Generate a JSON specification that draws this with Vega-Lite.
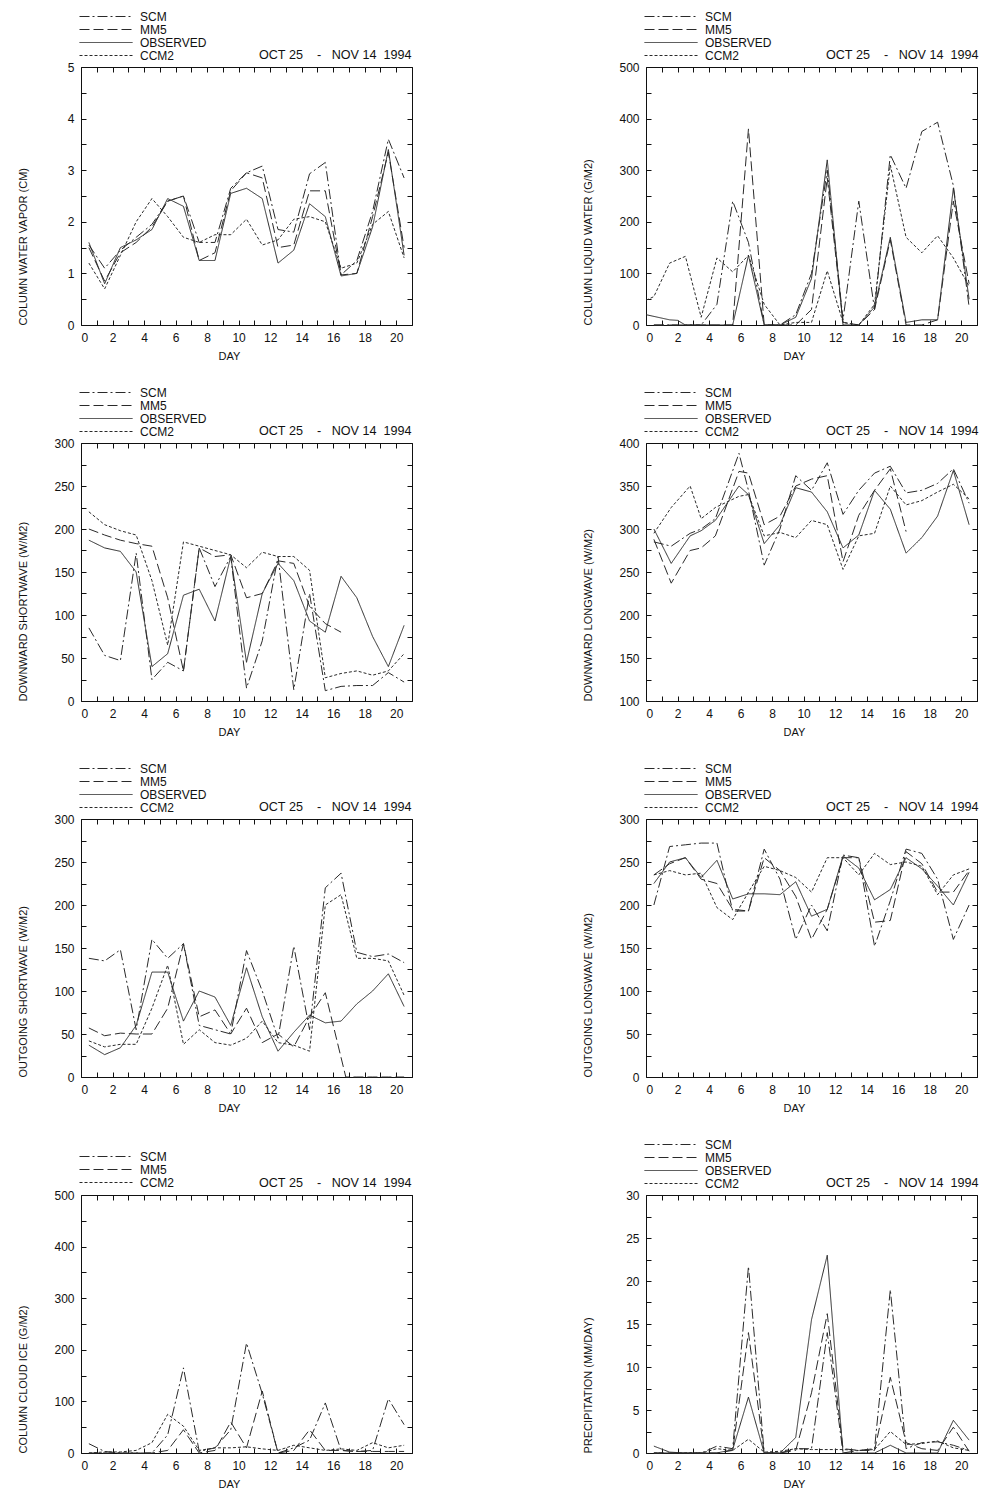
{
"$schema": "https://vega.github.io/schema/vega-lite/v6.json",
"background": "white",
"padding": {"left": 16, "top": 9, "right": 0, "bottom": 0},
"columns": 2,
"spacing": {"row": 118, "column": 234},
"bounds": "flush",
"resolve": {"scale": {"strokeDash": "independent", "x": "independent", "y": "independent"}, "legend": {"strokeDash": "independent"}},
"datasets": {
"cwv": [
{"series":"SCM","day":0.5,"value":1.55},{"series":"SCM","day":1.5,"value":1.1},{"series":"SCM","day":2.5,"value":1.45},{"series":"SCM","day":3.5,"value":1.7},{"series":"SCM","day":4.5,"value":1.95},{"series":"SCM","day":5.5,"value":2.4},{"series":"SCM","day":6.5,"value":2.5},{"series":"SCM","day":7.5,"value":1.6},{"series":"SCM","day":8.5,"value":1.6},{"series":"SCM","day":9.5,"value":2.65},{"series":"SCM","day":10.5,"value":2.95},{"series":"SCM","day":11.5,"value":3.08},{"series":"SCM","day":12.5,"value":1.85},{"series":"SCM","day":13.5,"value":1.8},{"series":"SCM","day":14.5,"value":2.93},{"series":"SCM","day":15.5,"value":3.15},{"series":"SCM","day":16.5,"value":0.97},{"series":"SCM","day":17.5,"value":1.25},{"series":"SCM","day":18.5,"value":2.2},{"series":"SCM","day":19.5,"value":3.6},{"series":"SCM","day":20.5,"value":2.85},
{"series":"MM5","day":0.5,"value":1.5},{"series":"MM5","day":1.5,"value":0.85},{"series":"MM5","day":2.5,"value":1.4},{"series":"MM5","day":3.5,"value":1.6},{"series":"MM5","day":4.5,"value":1.9},{"series":"MM5","day":5.5,"value":2.4},{"series":"MM5","day":6.5,"value":2.5},{"series":"MM5","day":7.5,"value":1.25},{"series":"MM5","day":8.5,"value":1.4},{"series":"MM5","day":9.5,"value":2.6},{"series":"MM5","day":10.5,"value":2.95},{"series":"MM5","day":11.5,"value":2.85},{"series":"MM5","day":12.5,"value":1.5},{"series":"MM5","day":13.5,"value":1.55},{"series":"MM5","day":14.5,"value":2.6},{"series":"MM5","day":15.5,"value":2.6},{"series":"MM5","day":16.5,"value":0.97},{"series":"MM5","day":17.5,"value":1.0},{"series":"MM5","day":18.5,"value":2.1},{"series":"MM5","day":19.5,"value":3.35},{"series":"MM5","day":20.5,"value":1.5},
{"series":"OBSERVED","day":0.5,"value":1.6},{"series":"OBSERVED","day":1.5,"value":0.8},{"series":"OBSERVED","day":2.5,"value":1.5},{"series":"OBSERVED","day":3.5,"value":1.65},{"series":"OBSERVED","day":4.5,"value":1.85},{"series":"OBSERVED","day":5.5,"value":2.45},{"series":"OBSERVED","day":6.5,"value":2.3},{"series":"OBSERVED","day":7.5,"value":1.25},{"series":"OBSERVED","day":8.5,"value":1.25},{"series":"OBSERVED","day":9.5,"value":2.55},{"series":"OBSERVED","day":10.5,"value":2.65},{"series":"OBSERVED","day":11.5,"value":2.45},{"series":"OBSERVED","day":12.5,"value":1.2},{"series":"OBSERVED","day":13.5,"value":1.45},{"series":"OBSERVED","day":14.5,"value":2.35},{"series":"OBSERVED","day":15.5,"value":2.1},{"series":"OBSERVED","day":16.5,"value":0.95},{"series":"OBSERVED","day":17.5,"value":1.0},{"series":"OBSERVED","day":18.5,"value":1.9},{"series":"OBSERVED","day":19.5,"value":3.4},{"series":"OBSERVED","day":20.5,"value":1.35},
{"series":"CCM2","day":0.5,"value":1.2},{"series":"CCM2","day":1.5,"value":0.7},{"series":"CCM2","day":2.5,"value":1.35},{"series":"CCM2","day":3.5,"value":2.0},{"series":"CCM2","day":4.5,"value":2.45},{"series":"CCM2","day":5.5,"value":2.1},{"series":"CCM2","day":6.5,"value":1.7},{"series":"CCM2","day":7.5,"value":1.6},{"series":"CCM2","day":8.5,"value":1.75},{"series":"CCM2","day":9.5,"value":1.75},{"series":"CCM2","day":10.5,"value":2.05},{"series":"CCM2","day":11.5,"value":1.55},{"series":"CCM2","day":12.5,"value":1.65},{"series":"CCM2","day":13.5,"value":2.05},{"series":"CCM2","day":14.5,"value":2.1},{"series":"CCM2","day":15.5,"value":2.0},{"series":"CCM2","day":16.5,"value":1.1},{"series":"CCM2","day":17.5,"value":1.2},{"series":"CCM2","day":18.5,"value":1.95},{"series":"CCM2","day":19.5,"value":2.2},{"series":"CCM2","day":20.5,"value":1.3}
],
"clw": [
{"series":"SCM","day":0.5,"value":0},{"series":"SCM","day":1.5,"value":0},{"series":"SCM","day":2.5,"value":0},{"series":"SCM","day":3.5,"value":0},{"series":"SCM","day":4.5,"value":40},{"series":"SCM","day":5.5,"value":240},{"series":"SCM","day":6.5,"value":160},{"series":"SCM","day":7.5,"value":0},{"series":"SCM","day":8.5,"value":0},{"series":"SCM","day":9.5,"value":20},{"series":"SCM","day":10.5,"value":100},{"series":"SCM","day":11.5,"value":300},{"series":"SCM","day":12.5,"value":10},{"series":"SCM","day":13.5,"value":240},{"series":"SCM","day":14.5,"value":30},{"series":"SCM","day":15.5,"value":330},{"series":"SCM","day":16.5,"value":265},{"series":"SCM","day":17.5,"value":375},{"series":"SCM","day":18.5,"value":393},{"series":"SCM","day":19.5,"value":270},{"series":"SCM","day":20.5,"value":35},
{"series":"MM5","day":0.5,"value":0},{"series":"MM5","day":1.5,"value":0},{"series":"MM5","day":2.5,"value":0},{"series":"MM5","day":3.5,"value":0},{"series":"MM5","day":4.5,"value":0},{"series":"MM5","day":5.5,"value":0},{"series":"MM5","day":6.5,"value":380},{"series":"MM5","day":7.5,"value":0},{"series":"MM5","day":8.5,"value":0},{"series":"MM5","day":9.5,"value":0},{"series":"MM5","day":10.5,"value":30},{"series":"MM5","day":11.5,"value":285},{"series":"MM5","day":12.5,"value":5},{"series":"MM5","day":13.5,"value":0},{"series":"MM5","day":14.5,"value":30},{"series":"MM5","day":15.5,"value":165},{"series":"MM5","day":16.5,"value":0},{"series":"MM5","day":17.5,"value":0},{"series":"MM5","day":18.5,"value":10},{"series":"MM5","day":19.5,"value":240},{"series":"MM5","day":20.5,"value":80},
{"series":"OBSERVED","day":0,"value":20},{"series":"OBSERVED","day":1.5,"value":10},{"series":"OBSERVED","day":2,"value":9},{"series":"OBSERVED","day":2.5,"value":0},{"series":"OBSERVED","day":3.5,"value":0},{"series":"OBSERVED","day":4.5,"value":0},{"series":"OBSERVED","day":5.5,"value":0},{"series":"OBSERVED","day":6.5,"value":135},{"series":"OBSERVED","day":7.5,"value":0},{"series":"OBSERVED","day":8.5,"value":0},{"series":"OBSERVED","day":9.5,"value":15},{"series":"OBSERVED","day":10.5,"value":90},{"series":"OBSERVED","day":11.5,"value":320},{"series":"OBSERVED","day":12.5,"value":0},{"series":"OBSERVED","day":13.5,"value":0},{"series":"OBSERVED","day":14.5,"value":35},{"series":"OBSERVED","day":15.5,"value":170},{"series":"OBSERVED","day":16.5,"value":5},{"series":"OBSERVED","day":17.5,"value":10},{"series":"OBSERVED","day":18.5,"value":10},{"series":"OBSERVED","day":19.5,"value":265},{"series":"OBSERVED","day":20.5,"value":50},
{"series":"CCM2","day":0,"value":48},{"series":"CCM2","day":0.5,"value":55},{"series":"CCM2","day":1.5,"value":120},{"series":"CCM2","day":2.5,"value":133},{"series":"CCM2","day":3.5,"value":15},{"series":"CCM2","day":4.5,"value":130},{"series":"CCM2","day":5.5,"value":103},{"series":"CCM2","day":6.5,"value":135},{"series":"CCM2","day":7.5,"value":40},{"series":"CCM2","day":8.5,"value":0},{"series":"CCM2","day":9.5,"value":5},{"series":"CCM2","day":10.5,"value":5},{"series":"CCM2","day":11.5,"value":105},{"series":"CCM2","day":12.5,"value":5},{"series":"CCM2","day":13.5,"value":0},{"series":"CCM2","day":14.5,"value":40},{"series":"CCM2","day":15.5,"value":310},{"series":"CCM2","day":16.5,"value":170},{"series":"CCM2","day":17.5,"value":140},{"series":"CCM2","day":18.5,"value":173},{"series":"CCM2","day":19.5,"value":130},{"series":"CCM2","day":20.5,"value":75}
],
"dsw": [
{"series":"SCM","day":0.5,"value":85},{"series":"SCM","day":1.5,"value":53},{"series":"SCM","day":2.5,"value":47},{"series":"SCM","day":3.5,"value":172},{"series":"SCM","day":4.5,"value":25},{"series":"SCM","day":5.5,"value":45},{"series":"SCM","day":6.5,"value":35},{"series":"SCM","day":7.5,"value":178},{"series":"SCM","day":8.5,"value":133},{"series":"SCM","day":9.5,"value":168},{"series":"SCM","day":10.5,"value":15},{"series":"SCM","day":11.5,"value":70},{"series":"SCM","day":12.5,"value":168},{"series":"SCM","day":13.5,"value":13},{"series":"SCM","day":14.5,"value":125},{"series":"SCM","day":15.5,"value":12},{"series":"SCM","day":16.5,"value":17},{"series":"SCM","day":17.5,"value":18},{"series":"SCM","day":18.5,"value":18},{"series":"SCM","day":19.5,"value":33},{"series":"SCM","day":20.5,"value":22},
{"series":"MM5","day":0.5,"value":200},{"series":"MM5","day":1.5,"value":193},{"series":"MM5","day":2.5,"value":187},{"series":"MM5","day":3.5,"value":183},{"series":"MM5","day":4.5,"value":180},{"series":"MM5","day":5.5,"value":120},{"series":"MM5","day":6.5,"value":35},{"series":"MM5","day":7.5,"value":178},{"series":"MM5","day":8.5,"value":168},{"series":"MM5","day":9.5,"value":170},{"series":"MM5","day":10.5,"value":120},{"series":"MM5","day":11.5,"value":125},{"series":"MM5","day":12.5,"value":163},{"series":"MM5","day":13.5,"value":160},{"series":"MM5","day":14.5,"value":110},{"series":"MM5","day":15.5,"value":90},{"series":"MM5","day":16.5,"value":80},
{"series":"OBSERVED","day":0.5,"value":187},{"series":"OBSERVED","day":1.5,"value":178},{"series":"OBSERVED","day":2.5,"value":174},{"series":"OBSERVED","day":3.5,"value":150},{"series":"OBSERVED","day":4.5,"value":40},{"series":"OBSERVED","day":5.5,"value":55},{"series":"OBSERVED","day":6.5,"value":123},{"series":"OBSERVED","day":7.5,"value":130},{"series":"OBSERVED","day":8.5,"value":93},{"series":"OBSERVED","day":9.5,"value":168},{"series":"OBSERVED","day":10.5,"value":45},{"series":"OBSERVED","day":11.5,"value":125},{"series":"OBSERVED","day":12.5,"value":160},{"series":"OBSERVED","day":13.5,"value":140},{"series":"OBSERVED","day":14.5,"value":93},{"series":"OBSERVED","day":15.5,"value":80},{"series":"OBSERVED","day":16.5,"value":145},{"series":"OBSERVED","day":17.5,"value":120},{"series":"OBSERVED","day":18.5,"value":75},{"series":"OBSERVED","day":19.5,"value":40},{"series":"OBSERVED","day":20.5,"value":88},
{"series":"CCM2","day":0.5,"value":220},{"series":"CCM2","day":1.5,"value":205},{"series":"CCM2","day":2.5,"value":198},{"series":"CCM2","day":3.5,"value":193},{"series":"CCM2","day":4.5,"value":140},{"series":"CCM2","day":5.5,"value":65},{"series":"CCM2","day":6.5,"value":185},{"series":"CCM2","day":7.5,"value":180},{"series":"CCM2","day":8.5,"value":175},{"series":"CCM2","day":9.5,"value":170},{"series":"CCM2","day":10.5,"value":155},{"series":"CCM2","day":11.5,"value":173},{"series":"CCM2","day":12.5,"value":168},{"series":"CCM2","day":13.5,"value":168},{"series":"CCM2","day":14.5,"value":152},{"series":"CCM2","day":15.5,"value":27},{"series":"CCM2","day":16.5,"value":32},{"series":"CCM2","day":17.5,"value":35},{"series":"CCM2","day":18.5,"value":30},{"series":"CCM2","day":19.5,"value":35},{"series":"CCM2","day":20.5,"value":55}
],
"dlw": [
{"series":"SCM","day":0.5,"value":285},{"series":"SCM","day":1.6,"value":280},{"series":"SCM","day":2.8,"value":295},{"series":"SCM","day":3.5,"value":300},{"series":"SCM","day":4.4,"value":312},{"series":"SCM","day":5.9,"value":388},{"series":"SCM","day":6.5,"value":345},{"series":"SCM","day":7.5,"value":258},{"series":"SCM","day":8.5,"value":300},{"series":"SCM","day":9.5,"value":362},{"series":"SCM","day":10.5,"value":345},{"series":"SCM","day":11.5,"value":377},{"series":"SCM","day":12.5,"value":317},{"series":"SCM","day":13.5,"value":345},{"series":"SCM","day":14.5,"value":365},{"series":"SCM","day":15.5,"value":373},{"series":"SCM","day":16.5,"value":342},{"series":"SCM","day":17.5,"value":345},{"series":"SCM","day":18.5,"value":353},{"series":"SCM","day":19.5,"value":370},{"series":"SCM","day":20.5,"value":330},
{"series":"MM5","day":0.5,"value":288},{"series":"MM5","day":1.6,"value":237},{"series":"MM5","day":2.8,"value":275},{"series":"MM5","day":3.5,"value":278},{"series":"MM5","day":4.4,"value":292},{"series":"MM5","day":5.9,"value":367},{"series":"MM5","day":6.5,"value":365},{"series":"MM5","day":7.5,"value":305},{"series":"MM5","day":8.5,"value":315},{"series":"MM5","day":9.5,"value":350},{"series":"MM5","day":10.5,"value":358},{"series":"MM5","day":11.5,"value":362},{"series":"MM5","day":12.5,"value":262},{"series":"MM5","day":13.5,"value":316},{"series":"MM5","day":14.5,"value":345},{"series":"MM5","day":15.5,"value":370},{"series":"MM5","day":16.5,"value":297},
{"series":"OBSERVED","day":0.5,"value":300},{"series":"OBSERVED","day":1.6,"value":260},{"series":"OBSERVED","day":2.8,"value":292},{"series":"OBSERVED","day":3.5,"value":298},{"series":"OBSERVED","day":4.4,"value":310},{"series":"OBSERVED","day":5.9,"value":350},{"series":"OBSERVED","day":6.5,"value":340},{"series":"OBSERVED","day":7.5,"value":283},{"series":"OBSERVED","day":8.5,"value":305},{"series":"OBSERVED","day":9.5,"value":348},{"series":"OBSERVED","day":10.5,"value":343},{"series":"OBSERVED","day":11.5,"value":320},{"series":"OBSERVED","day":12.5,"value":278},{"series":"OBSERVED","day":13.5,"value":293},{"series":"OBSERVED","day":14.5,"value":345},{"series":"OBSERVED","day":15.5,"value":323},{"series":"OBSERVED","day":16.5,"value":272},{"series":"OBSERVED","day":17.5,"value":290},{"series":"OBSERVED","day":18.5,"value":315},{"series":"OBSERVED","day":19.5,"value":368},{"series":"OBSERVED","day":20.5,"value":305},
{"series":"CCM2","day":0.5,"value":295},{"series":"CCM2","day":1.6,"value":325},{"series":"CCM2","day":2.8,"value":350},{"series":"CCM2","day":3.5,"value":312},{"series":"CCM2","day":4.4,"value":325},{"series":"CCM2","day":5.9,"value":338},{"series":"CCM2","day":6.5,"value":340},{"series":"CCM2","day":7.5,"value":292},{"series":"CCM2","day":8.5,"value":296},{"series":"CCM2","day":9.5,"value":290},{"series":"CCM2","day":10.5,"value":310},{"series":"CCM2","day":11.5,"value":305},{"series":"CCM2","day":12.5,"value":253},{"series":"CCM2","day":13.5,"value":292},{"series":"CCM2","day":14.5,"value":295},{"series":"CCM2","day":15.5,"value":350},{"series":"CCM2","day":16.5,"value":328},{"series":"CCM2","day":17.5,"value":333},{"series":"CCM2","day":18.5,"value":343},{"series":"CCM2","day":19.5,"value":352},{"series":"CCM2","day":20.5,"value":335}
],
"osw": [
{"series":"SCM","day":0.5,"value":138},{"series":"SCM","day":1.5,"value":135},{"series":"SCM","day":2.5,"value":148},{"series":"SCM","day":3.5,"value":55},{"series":"SCM","day":4.5,"value":160},{"series":"SCM","day":5.5,"value":138},{"series":"SCM","day":6.5,"value":155},{"series":"SCM","day":7.5,"value":60},{"series":"SCM","day":8.5,"value":55},{"series":"SCM","day":9.5,"value":50},{"series":"SCM","day":10.5,"value":147},{"series":"SCM","day":11.5,"value":100},{"series":"SCM","day":12.5,"value":45},{"series":"SCM","day":13.5,"value":152},{"series":"SCM","day":14.5,"value":55},{"series":"SCM","day":15.5,"value":220},{"series":"SCM","day":16.5,"value":237},{"series":"SCM","day":17.5,"value":145},{"series":"SCM","day":18.5,"value":140},{"series":"SCM","day":19.5,"value":143},{"series":"SCM","day":20.5,"value":133},
{"series":"MM5","day":0.5,"value":57},{"series":"MM5","day":1.5,"value":48},{"series":"MM5","day":2.5,"value":51},{"series":"MM5","day":3.5,"value":50},{"series":"MM5","day":4.5,"value":50},{"series":"MM5","day":5.5,"value":80},{"series":"MM5","day":6.5,"value":155},{"series":"MM5","day":7.5,"value":70},{"series":"MM5","day":8.5,"value":78},{"series":"MM5","day":9.5,"value":50},{"series":"MM5","day":10.5,"value":80},{"series":"MM5","day":11.5,"value":40},{"series":"MM5","day":12.5,"value":50},{"series":"MM5","day":13.5,"value":35},{"series":"MM5","day":14.5,"value":70},{"series":"MM5","day":15.5,"value":98},{"series":"MM5","day":16.8,"value":0},{"series":"MM5","day":17.5,"value":0},{"series":"MM5","day":18.5,"value":0},{"series":"MM5","day":19.5,"value":0},{"series":"MM5","day":20.5,"value":0},
{"series":"OBSERVED","day":0.5,"value":37},{"series":"OBSERVED","day":1.5,"value":26},{"series":"OBSERVED","day":2.5,"value":34},{"series":"OBSERVED","day":3.5,"value":60},{"series":"OBSERVED","day":4.5,"value":122},{"series":"OBSERVED","day":5.5,"value":122},{"series":"OBSERVED","day":6.5,"value":65},{"series":"OBSERVED","day":7.5,"value":100},{"series":"OBSERVED","day":8.5,"value":93},{"series":"OBSERVED","day":9.5,"value":60},{"series":"OBSERVED","day":10.5,"value":127},{"series":"OBSERVED","day":11.5,"value":70},{"series":"OBSERVED","day":12.5,"value":30},{"series":"OBSERVED","day":13.5,"value":52},{"series":"OBSERVED","day":14.5,"value":72},{"series":"OBSERVED","day":15.5,"value":63},{"series":"OBSERVED","day":16.5,"value":65},{"series":"OBSERVED","day":17.5,"value":85},{"series":"OBSERVED","day":18.5,"value":100},{"series":"OBSERVED","day":19.5,"value":120},{"series":"OBSERVED","day":20.5,"value":82},
{"series":"CCM2","day":0.5,"value":42},{"series":"CCM2","day":1.5,"value":35},{"series":"CCM2","day":2.5,"value":38},{"series":"CCM2","day":3.5,"value":38},{"series":"CCM2","day":4.5,"value":80},{"series":"CCM2","day":5.5,"value":130},{"series":"CCM2","day":6.5,"value":38},{"series":"CCM2","day":7.5,"value":55},{"series":"CCM2","day":8.5,"value":40},{"series":"CCM2","day":9.5,"value":37},{"series":"CCM2","day":10.5,"value":45},{"series":"CCM2","day":11.5,"value":65},{"series":"CCM2","day":12.5,"value":40},{"series":"CCM2","day":13.5,"value":37},{"series":"CCM2","day":14.5,"value":30},{"series":"CCM2","day":15.5,"value":200},{"series":"CCM2","day":16.5,"value":212},{"series":"CCM2","day":17.5,"value":138},{"series":"CCM2","day":18.5,"value":138},{"series":"CCM2","day":19.5,"value":135},{"series":"CCM2","day":20.5,"value":95}
],
"olw": [
{"series":"SCM","day":0.5,"value":200},{"series":"SCM","day":1.5,"value":268},{"series":"SCM","day":2.5,"value":270},{"series":"SCM","day":3.5,"value":272},{"series":"SCM","day":4.5,"value":272},{"series":"SCM","day":5.5,"value":193},{"series":"SCM","day":6.5,"value":193},{"series":"SCM","day":7.5,"value":265},{"series":"SCM","day":8.5,"value":230},{"series":"SCM","day":9.5,"value":160},{"series":"SCM","day":10.5,"value":200},{"series":"SCM","day":11.5,"value":170},{"series":"SCM","day":12.5,"value":258},{"series":"SCM","day":13.5,"value":255},{"series":"SCM","day":14.5,"value":152},{"series":"SCM","day":15.5,"value":205},{"series":"SCM","day":16.5,"value":265},{"series":"SCM","day":17.5,"value":260},{"series":"SCM","day":18.5,"value":230},{"series":"SCM","day":19.5,"value":160},{"series":"SCM","day":20.5,"value":200},
{"series":"MM5","day":0.5,"value":235},{"series":"MM5","day":1.5,"value":248},{"series":"MM5","day":2.5,"value":255},{"series":"MM5","day":3.5,"value":230},{"series":"MM5","day":4.5,"value":225},{"series":"MM5","day":5.5,"value":195},{"series":"MM5","day":6.5,"value":193},{"series":"MM5","day":7.5,"value":255},{"series":"MM5","day":8.5,"value":240},{"series":"MM5","day":9.5,"value":210},{"series":"MM5","day":10.5,"value":160},{"series":"MM5","day":11.5,"value":195},{"series":"MM5","day":12.5,"value":255},{"series":"MM5","day":13.5,"value":255},{"series":"MM5","day":14.5,"value":180},{"series":"MM5","day":15.5,"value":182},{"series":"MM5","day":16.5,"value":262},{"series":"MM5","day":17.5,"value":248},{"series":"MM5","day":18.5,"value":215},{"series":"MM5","day":19.5,"value":215},{"series":"MM5","day":20.5,"value":240},
{"series":"OBSERVED","day":0.5,"value":225},{"series":"OBSERVED","day":1.5,"value":250},{"series":"OBSERVED","day":2.5,"value":255},{"series":"OBSERVED","day":3.5,"value":232},{"series":"OBSERVED","day":4.5,"value":252},{"series":"OBSERVED","day":5.5,"value":207},{"series":"OBSERVED","day":6.5,"value":213},{"series":"OBSERVED","day":7.5,"value":213},{"series":"OBSERVED","day":8.5,"value":212},{"series":"OBSERVED","day":9.5,"value":227},{"series":"OBSERVED","day":10.5,"value":187},{"series":"OBSERVED","day":11.5,"value":195},{"series":"OBSERVED","day":12.5,"value":257},{"series":"OBSERVED","day":13.5,"value":243},{"series":"OBSERVED","day":14.5,"value":206},{"series":"OBSERVED","day":15.5,"value":218},{"series":"OBSERVED","day":16.5,"value":255},{"series":"OBSERVED","day":17.5,"value":242},{"series":"OBSERVED","day":18.5,"value":222},{"series":"OBSERVED","day":19.5,"value":200},{"series":"OBSERVED","day":20.5,"value":238},
{"series":"CCM2","day":0.5,"value":235},{"series":"CCM2","day":1.5,"value":240},{"series":"CCM2","day":2.5,"value":235},{"series":"CCM2","day":3.5,"value":237},{"series":"CCM2","day":4.5,"value":197},{"series":"CCM2","day":5.5,"value":183},{"series":"CCM2","day":6.5,"value":215},{"series":"CCM2","day":7.5,"value":245},{"series":"CCM2","day":8.5,"value":240},{"series":"CCM2","day":9.5,"value":232},{"series":"CCM2","day":10.5,"value":215},{"series":"CCM2","day":11.5,"value":255},{"series":"CCM2","day":12.5,"value":255},{"series":"CCM2","day":13.5,"value":235},{"series":"CCM2","day":14.5,"value":260},{"series":"CCM2","day":15.5,"value":247},{"series":"CCM2","day":16.5,"value":250},{"series":"CCM2","day":17.5,"value":245},{"series":"CCM2","day":18.5,"value":212},{"series":"CCM2","day":19.5,"value":235},{"series":"CCM2","day":20.5,"value":242}
],
"cci": [
{"series":"SCM","day":0.5,"value":18},{"series":"SCM","day":1.5,"value":3},{"series":"SCM","day":2.5,"value":0},{"series":"SCM","day":3.5,"value":0},{"series":"SCM","day":4.5,"value":0},{"series":"SCM","day":5.5,"value":35},{"series":"SCM","day":6.5,"value":165},{"series":"SCM","day":7.5,"value":3},{"series":"SCM","day":8.5,"value":10},{"series":"SCM","day":9.5,"value":45},{"series":"SCM","day":10.5,"value":213},{"series":"SCM","day":11.5,"value":115},{"series":"SCM","day":12.5,"value":0},{"series":"SCM","day":13.5,"value":10},{"series":"SCM","day":14.5,"value":25},{"series":"SCM","day":15.5,"value":97},{"series":"SCM","day":16.5,"value":5},{"series":"SCM","day":17.5,"value":3},{"series":"SCM","day":18.5,"value":5},{"series":"SCM","day":19.5,"value":105},{"series":"SCM","day":20.5,"value":55},
{"series":"MM5","day":0.5,"value":0},{"series":"MM5","day":1.5,"value":0},{"series":"MM5","day":2.5,"value":0},{"series":"MM5","day":3.5,"value":0},{"series":"MM5","day":4.5,"value":0},{"series":"MM5","day":5.5,"value":5},{"series":"MM5","day":6.5,"value":45},{"series":"MM5","day":7.5,"value":0},{"series":"MM5","day":8.5,"value":5},{"series":"MM5","day":9.5,"value":60},{"series":"MM5","day":10.5,"value":10},{"series":"MM5","day":11.5,"value":120},{"series":"MM5","day":12.5,"value":0},{"series":"MM5","day":13.5,"value":5},{"series":"MM5","day":14.5,"value":45},{"series":"MM5","day":15.5,"value":5},{"series":"MM5","day":16.5,"value":5},{"series":"MM5","day":17.5,"value":3},{"series":"MM5","day":18.5,"value":3},{"series":"MM5","day":19.5,"value":3},{"series":"MM5","day":20.5,"value":3},
{"series":"CCM2","day":0.5,"value":0},{"series":"CCM2","day":1.5,"value":2},{"series":"CCM2","day":2.5,"value":2},{"series":"CCM2","day":3.5,"value":5},{"series":"CCM2","day":4.5,"value":20},{"series":"CCM2","day":5.5,"value":75},{"series":"CCM2","day":6.5,"value":52},{"series":"CCM2","day":7.5,"value":5},{"series":"CCM2","day":8.5,"value":10},{"series":"CCM2","day":9.5,"value":10},{"series":"CCM2","day":10.5,"value":12},{"series":"CCM2","day":11.5,"value":8},{"series":"CCM2","day":12.5,"value":5},{"series":"CCM2","day":13.5,"value":15},{"series":"CCM2","day":14.5,"value":10},{"series":"CCM2","day":15.5,"value":5},{"series":"CCM2","day":16.5,"value":8},{"series":"CCM2","day":17.5,"value":5},{"series":"CCM2","day":18.5,"value":20},{"series":"CCM2","day":19.5,"value":10},{"series":"CCM2","day":20.5,"value":15}
],
"pcp": [
{"series":"SCM","day":0.5,"value":0},{"series":"SCM","day":1.5,"value":0},{"series":"SCM","day":2.5,"value":0},{"series":"SCM","day":3.5,"value":0},{"series":"SCM","day":4.5,"value":0.8},{"series":"SCM","day":5.5,"value":0.5},{"series":"SCM","day":6.5,"value":21.7},{"series":"SCM","day":7.5,"value":0},{"series":"SCM","day":8.5,"value":0},{"series":"SCM","day":9.5,"value":0.5},{"series":"SCM","day":10.5,"value":0.5},{"series":"SCM","day":11.5,"value":14},{"series":"SCM","day":12.5,"value":0},{"series":"SCM","day":13.5,"value":0.3},{"series":"SCM","day":14.5,"value":0.5},{"series":"SCM","day":15.5,"value":19},{"series":"SCM","day":16.5,"value":0.5},{"series":"SCM","day":17.5,"value":1.2},{"series":"SCM","day":18.5,"value":1.3},{"series":"SCM","day":19.5,"value":0.9},{"series":"SCM","day":20.5,"value":0.3},
{"series":"MM5","day":0.5,"value":0},{"series":"MM5","day":1.5,"value":0},{"series":"MM5","day":2.5,"value":0},{"series":"MM5","day":3.5,"value":0},{"series":"MM5","day":4.5,"value":0},{"series":"MM5","day":5.5,"value":0.3},{"series":"MM5","day":6.5,"value":14},{"series":"MM5","day":7.5,"value":0},{"series":"MM5","day":8.5,"value":0},{"series":"MM5","day":9.5,"value":0.3},{"series":"MM5","day":10.5,"value":7},{"series":"MM5","day":11.5,"value":16.2},{"series":"MM5","day":12.5,"value":0.5},{"series":"MM5","day":13.5,"value":0.3},{"series":"MM5","day":14.5,"value":0.3},{"series":"MM5","day":15.5,"value":8.8},{"series":"MM5","day":16.5,"value":1.2},{"series":"MM5","day":17.5,"value":0.5},{"series":"MM5","day":18.5,"value":0.3},{"series":"MM5","day":19.5,"value":3},{"series":"MM5","day":20.5,"value":0.2},
{"series":"OBSERVED","day":0.5,"value":0.8},{"series":"OBSERVED","day":1.5,"value":0.1},{"series":"OBSERVED","day":2.5,"value":0},{"series":"OBSERVED","day":3.5,"value":0},{"series":"OBSERVED","day":4.5,"value":0},{"series":"OBSERVED","day":5.5,"value":0.4},{"series":"OBSERVED","day":6.5,"value":6.5},{"series":"OBSERVED","day":7.5,"value":0},{"series":"OBSERVED","day":8.5,"value":0},{"series":"OBSERVED","day":9.5,"value":1.8},{"series":"OBSERVED","day":10.5,"value":15.5},{"series":"OBSERVED","day":11.5,"value":23},{"series":"OBSERVED","day":12.5,"value":0},{"series":"OBSERVED","day":13.5,"value":0},{"series":"OBSERVED","day":14.5,"value":0},{"series":"OBSERVED","day":15.5,"value":0.9},{"series":"OBSERVED","day":16.5,"value":0},{"series":"OBSERVED","day":17.5,"value":0},{"series":"OBSERVED","day":18.5,"value":0},{"series":"OBSERVED","day":19.5,"value":3.8},{"series":"OBSERVED","day":20.5,"value":1.5},
{"series":"CCM2","day":0.5,"value":0},{"series":"CCM2","day":1.5,"value":0},{"series":"CCM2","day":2.5,"value":0},{"series":"CCM2","day":3.5,"value":0},{"series":"CCM2","day":4.5,"value":0.5},{"series":"CCM2","day":5.5,"value":0.3},{"series":"CCM2","day":6.5,"value":1.6},{"series":"CCM2","day":7.5,"value":0.1},{"series":"CCM2","day":8.5,"value":0.2},{"series":"CCM2","day":9.5,"value":0.5},{"series":"CCM2","day":10.5,"value":0.4},{"series":"CCM2","day":11.5,"value":0.4},{"series":"CCM2","day":12.5,"value":0.4},{"series":"CCM2","day":13.5,"value":0.3},{"series":"CCM2","day":14.5,"value":0.4},{"series":"CCM2","day":15.5,"value":2.5},{"series":"CCM2","day":16.5,"value":1.0},{"series":"CCM2","day":17.5,"value":1.1},{"series":"CCM2","day":18.5,"value":1.4},{"series":"CCM2","day":19.5,"value":0.6},{"series":"CCM2","day":20.5,"value":0.3}
]
},
"concat": [
{"width":331,"height":258,"data":{"name":"cwv"},
"resolve":{"axis":{"x":"independent","y":"independent"}},
"layer":[
{"mark":{"type":"line","strokeWidth":1,"color":"#2a2a2a"},"encoding":{
"x":{"field":"day","type":"quantitative","scale":{"domain":[0,21],"nice":false,"zero":false},"axis":{"orient":"bottom","values":[0,2,4,6,8,10,12,14,16,18,20],"ticks":false,"labelPadding":7,"title":"DAY","titleX":148,"titlePadding":7}},
"y":{"field":"value","type":"quantitative","scale":{"domain":[0,5],"nice":false,"zero":false},"axis":{"orient":"left","values":[0,1,2,3,4,5],"ticks":false,"labelPadding":7,"title":"COLUMN WATER VAPOR (CM)","titleAnchor":"start","titleX":-53}},
"strokeDash":{"field":"series","type":"nominal","scale":{"domain":["SCM","MM5","OBSERVED","CCM2"],"range":[[10,3,2,3],[10,4],[1,0],[3,2]]},"legend":{"title":null,"orient":"none","legendX":-2,"legendY":-57}}}},
{"mark":{"type":"point","opacity":0},"encoding":{
"x":{"field":"day","type":"quantitative","scale":{"domain":[0,21],"nice":false,"zero":false},"axis":{"orient":"bottom","values":[0,1,2,3,4,5,6,7,8,9,10,11,12,13,14,15,16,17,18,19,20,21],"labels":false,"tickSize":-5,"title":null}},
"y":{"field":"value","type":"quantitative","scale":{"domain":[0,5],"nice":false,"zero":false},"axis":{"orient":"left","values":[0,0.5,1,1.5,2,2.5,3,3.5,4,4.5,5],"labels":false,"tickSize":-5,"title":null}}}},
{"mark":{"type":"point","opacity":0},"encoding":{
"x":{"field":"day","type":"quantitative","scale":{"domain":[0,21],"nice":false,"zero":false},"axis":{"orient":"top","values":[0,1,2,3,4,5,6,7,8,9,10,11,12,13,14,15,16,17,18,19,20,21],"labels":false,"tickSize":-5,"title":"OCT\u00a025\u00a0\u00a0\u00a0\u00a0-\u00a0\u00a0\u00a0NOV\u00a014\u00a0\u00a01994","titleX":330,"titleY":-9,"titleAlign":"right","titleBaseline":"alphabetic","titleAngle":0,"titleFontSize":12.6}},
"y":{"field":"value","type":"quantitative","scale":{"domain":[0,5],"nice":false,"zero":false},"axis":{"orient":"right","values":[0,0.5,1,1.5,2,2.5,3,3.5,4,4.5,5],"labels":false,"tickSize":-5,"title":null}}}}
]},
{"width":331,"height":258,"data":{"name":"clw"},
"resolve":{"axis":{"x":"independent","y":"independent"}},
"layer":[
{"mark":{"type":"line","strokeWidth":1,"color":"#2a2a2a"},"encoding":{
"x":{"field":"day","type":"quantitative","scale":{"domain":[0,21],"nice":false,"zero":false},"axis":{"orient":"bottom","values":[0,2,4,6,8,10,12,14,16,18,20],"ticks":false,"labelPadding":7,"title":"DAY","titleX":148,"titlePadding":7}},
"y":{"field":"value","type":"quantitative","scale":{"domain":[0,500],"nice":false,"zero":false},"axis":{"orient":"left","values":[0,100,200,300,400,500],"ticks":false,"labelPadding":7,"title":"COLUMN LIQUID WATER (G/M2)","titleAnchor":"start","titleX":-53}},
"strokeDash":{"field":"series","type":"nominal","scale":{"domain":["SCM","MM5","OBSERVED","CCM2"],"range":[[10,3,2,3],[10,4],[1,0],[3,2]]},"legend":{"title":null,"orient":"none","legendX":-2,"legendY":-57}}}},
{"mark":{"type":"point","opacity":0},"encoding":{
"x":{"field":"day","type":"quantitative","scale":{"domain":[0,21],"nice":false,"zero":false},"axis":{"orient":"bottom","values":[0,1,2,3,4,5,6,7,8,9,10,11,12,13,14,15,16,17,18,19,20,21],"labels":false,"tickSize":-5,"title":null}},
"y":{"field":"value","type":"quantitative","scale":{"domain":[0,500],"nice":false,"zero":false},"axis":{"orient":"left","values":[0,50,100,150,200,250,300,350,400,450,500],"labels":false,"tickSize":-5,"title":null}}}},
{"mark":{"type":"point","opacity":0},"encoding":{
"x":{"field":"day","type":"quantitative","scale":{"domain":[0,21],"nice":false,"zero":false},"axis":{"orient":"top","values":[0,1,2,3,4,5,6,7,8,9,10,11,12,13,14,15,16,17,18,19,20,21],"labels":false,"tickSize":-5,"title":"OCT\u00a025\u00a0\u00a0\u00a0\u00a0-\u00a0\u00a0\u00a0NOV\u00a014\u00a0\u00a01994","titleX":332,"titleY":-9,"titleAlign":"right","titleBaseline":"alphabetic","titleAngle":0,"titleFontSize":12.6}},
"y":{"field":"value","type":"quantitative","scale":{"domain":[0,500],"nice":false,"zero":false},"axis":{"orient":"right","values":[0,50,100,150,200,250,300,350,400,450,500],"labels":false,"tickSize":-5,"title":null}}}}
]},
{"width":331,"height":258,"data":{"name":"dsw"},
"resolve":{"axis":{"x":"independent","y":"independent"}},
"layer":[
{"mark":{"type":"line","strokeWidth":1,"color":"#2a2a2a"},"encoding":{
"x":{"field":"day","type":"quantitative","scale":{"domain":[0,21],"nice":false,"zero":false},"axis":{"orient":"bottom","values":[0,2,4,6,8,10,12,14,16,18,20],"ticks":false,"labelPadding":7,"title":"DAY","titleX":148,"titlePadding":7}},
"y":{"field":"value","type":"quantitative","scale":{"domain":[0,300],"nice":false,"zero":false},"axis":{"orient":"left","values":[0,50,100,150,200,250,300],"ticks":false,"labelPadding":7,"title":"DOWNWARD SHORTWAVE (W/M2)","titleAnchor":"start","titleX":-53}},
"strokeDash":{"field":"series","type":"nominal","scale":{"domain":["SCM","MM5","OBSERVED","CCM2"],"range":[[10,3,2,3],[10,4],[1,0],[3,2]]},"legend":{"title":null,"orient":"none","legendX":-2,"legendY":-57}}}},
{"mark":{"type":"point","opacity":0},"encoding":{
"x":{"field":"day","type":"quantitative","scale":{"domain":[0,21],"nice":false,"zero":false},"axis":{"orient":"bottom","values":[0,1,2,3,4,5,6,7,8,9,10,11,12,13,14,15,16,17,18,19,20,21],"labels":false,"tickSize":-5,"title":null}},
"y":{"field":"value","type":"quantitative","scale":{"domain":[0,300],"nice":false,"zero":false},"axis":{"orient":"left","values":[0,25,50,75,100,125,150,175,200,225,250,275,300],"labels":false,"tickSize":-5,"title":null}}}},
{"mark":{"type":"point","opacity":0},"encoding":{
"x":{"field":"day","type":"quantitative","scale":{"domain":[0,21],"nice":false,"zero":false},"axis":{"orient":"top","values":[0,1,2,3,4,5,6,7,8,9,10,11,12,13,14,15,16,17,18,19,20,21],"labels":false,"tickSize":-5,"title":"OCT\u00a025\u00a0\u00a0\u00a0\u00a0-\u00a0\u00a0\u00a0NOV\u00a014\u00a0\u00a01994","titleX":330,"titleY":-9,"titleAlign":"right","titleBaseline":"alphabetic","titleAngle":0,"titleFontSize":12.6}},
"y":{"field":"value","type":"quantitative","scale":{"domain":[0,300],"nice":false,"zero":false},"axis":{"orient":"right","values":[0,25,50,75,100,125,150,175,200,225,250,275,300],"labels":false,"tickSize":-5,"title":null}}}}
]},
{"width":331,"height":258,"data":{"name":"dlw"},
"resolve":{"axis":{"x":"independent","y":"independent"}},
"layer":[
{"mark":{"type":"line","strokeWidth":1,"color":"#2a2a2a"},"encoding":{
"x":{"field":"day","type":"quantitative","scale":{"domain":[0,21],"nice":false,"zero":false},"axis":{"orient":"bottom","values":[0,2,4,6,8,10,12,14,16,18,20],"ticks":false,"labelPadding":7,"title":"DAY","titleX":148,"titlePadding":7}},
"y":{"field":"value","type":"quantitative","scale":{"domain":[100,400],"nice":false,"zero":false},"axis":{"orient":"left","values":[100,150,200,250,300,350,400],"ticks":false,"labelPadding":7,"title":"DOWNWARD LONGWAVE (W/M2)","titleAnchor":"start","titleX":-53}},
"strokeDash":{"field":"series","type":"nominal","scale":{"domain":["SCM","MM5","OBSERVED","CCM2"],"range":[[10,3,2,3],[10,4],[1,0],[3,2]]},"legend":{"title":null,"orient":"none","legendX":-2,"legendY":-57}}}},
{"mark":{"type":"point","opacity":0},"encoding":{
"x":{"field":"day","type":"quantitative","scale":{"domain":[0,21],"nice":false,"zero":false},"axis":{"orient":"bottom","values":[0,1,2,3,4,5,6,7,8,9,10,11,12,13,14,15,16,17,18,19,20,21],"labels":false,"tickSize":-5,"title":null}},
"y":{"field":"value","type":"quantitative","scale":{"domain":[100,400],"nice":false,"zero":false},"axis":{"orient":"left","values":[100,125,150,175,200,225,250,275,300,325,350,375,400],"labels":false,"tickSize":-5,"title":null}}}},
{"mark":{"type":"point","opacity":0},"encoding":{
"x":{"field":"day","type":"quantitative","scale":{"domain":[0,21],"nice":false,"zero":false},"axis":{"orient":"top","values":[0,1,2,3,4,5,6,7,8,9,10,11,12,13,14,15,16,17,18,19,20,21],"labels":false,"tickSize":-5,"title":"OCT\u00a025\u00a0\u00a0\u00a0\u00a0-\u00a0\u00a0\u00a0NOV\u00a014\u00a0\u00a01994","titleX":332,"titleY":-9,"titleAlign":"right","titleBaseline":"alphabetic","titleAngle":0,"titleFontSize":12.6}},
"y":{"field":"value","type":"quantitative","scale":{"domain":[100,400],"nice":false,"zero":false},"axis":{"orient":"right","values":[100,125,150,175,200,225,250,275,300,325,350,375,400],"labels":false,"tickSize":-5,"title":null}}}}
]},
{"width":331,"height":258,"data":{"name":"osw"},
"resolve":{"axis":{"x":"independent","y":"independent"}},
"layer":[
{"mark":{"type":"line","strokeWidth":1,"color":"#2a2a2a"},"encoding":{
"x":{"field":"day","type":"quantitative","scale":{"domain":[0,21],"nice":false,"zero":false},"axis":{"orient":"bottom","values":[0,2,4,6,8,10,12,14,16,18,20],"ticks":false,"labelPadding":7,"title":"DAY","titleX":148,"titlePadding":7}},
"y":{"field":"value","type":"quantitative","scale":{"domain":[0,300],"nice":false,"zero":false},"axis":{"orient":"left","values":[0,50,100,150,200,250,300],"ticks":false,"labelPadding":7,"title":"OUTGOING SHORTWAVE (W/M2)","titleAnchor":"start","titleX":-53}},
"strokeDash":{"field":"series","type":"nominal","scale":{"domain":["SCM","MM5","OBSERVED","CCM2"],"range":[[10,3,2,3],[10,4],[1,0],[3,2]]},"legend":{"title":null,"orient":"none","legendX":-2,"legendY":-57}}}},
{"mark":{"type":"point","opacity":0},"encoding":{
"x":{"field":"day","type":"quantitative","scale":{"domain":[0,21],"nice":false,"zero":false},"axis":{"orient":"bottom","values":[0,1,2,3,4,5,6,7,8,9,10,11,12,13,14,15,16,17,18,19,20,21],"labels":false,"tickSize":-5,"title":null}},
"y":{"field":"value","type":"quantitative","scale":{"domain":[0,300],"nice":false,"zero":false},"axis":{"orient":"left","values":[0,25,50,75,100,125,150,175,200,225,250,275,300],"labels":false,"tickSize":-5,"title":null}}}},
{"mark":{"type":"point","opacity":0},"encoding":{
"x":{"field":"day","type":"quantitative","scale":{"domain":[0,21],"nice":false,"zero":false},"axis":{"orient":"top","values":[0,1,2,3,4,5,6,7,8,9,10,11,12,13,14,15,16,17,18,19,20,21],"labels":false,"tickSize":-5,"title":"OCT\u00a025\u00a0\u00a0\u00a0\u00a0-\u00a0\u00a0\u00a0NOV\u00a014\u00a0\u00a01994","titleX":330,"titleY":-9,"titleAlign":"right","titleBaseline":"alphabetic","titleAngle":0,"titleFontSize":12.6}},
"y":{"field":"value","type":"quantitative","scale":{"domain":[0,300],"nice":false,"zero":false},"axis":{"orient":"right","values":[0,25,50,75,100,125,150,175,200,225,250,275,300],"labels":false,"tickSize":-5,"title":null}}}}
]},
{"width":331,"height":258,"data":{"name":"olw"},
"resolve":{"axis":{"x":"independent","y":"independent"}},
"layer":[
{"mark":{"type":"line","strokeWidth":1,"color":"#2a2a2a"},"encoding":{
"x":{"field":"day","type":"quantitative","scale":{"domain":[0,21],"nice":false,"zero":false},"axis":{"orient":"bottom","values":[0,2,4,6,8,10,12,14,16,18,20],"ticks":false,"labelPadding":7,"title":"DAY","titleX":148,"titlePadding":7}},
"y":{"field":"value","type":"quantitative","scale":{"domain":[0,300],"nice":false,"zero":false},"axis":{"orient":"left","values":[0,50,100,150,200,250,300],"ticks":false,"labelPadding":7,"title":"OUTGOING LONGWAVE (W/M2)","titleAnchor":"start","titleX":-53}},
"strokeDash":{"field":"series","type":"nominal","scale":{"domain":["SCM","MM5","OBSERVED","CCM2"],"range":[[10,3,2,3],[10,4],[1,0],[3,2]]},"legend":{"title":null,"orient":"none","legendX":-2,"legendY":-57}}}},
{"mark":{"type":"point","opacity":0},"encoding":{
"x":{"field":"day","type":"quantitative","scale":{"domain":[0,21],"nice":false,"zero":false},"axis":{"orient":"bottom","values":[0,1,2,3,4,5,6,7,8,9,10,11,12,13,14,15,16,17,18,19,20,21],"labels":false,"tickSize":-5,"title":null}},
"y":{"field":"value","type":"quantitative","scale":{"domain":[0,300],"nice":false,"zero":false},"axis":{"orient":"left","values":[0,25,50,75,100,125,150,175,200,225,250,275,300],"labels":false,"tickSize":-5,"title":null}}}},
{"mark":{"type":"point","opacity":0},"encoding":{
"x":{"field":"day","type":"quantitative","scale":{"domain":[0,21],"nice":false,"zero":false},"axis":{"orient":"top","values":[0,1,2,3,4,5,6,7,8,9,10,11,12,13,14,15,16,17,18,19,20,21],"labels":false,"tickSize":-5,"title":"OCT\u00a025\u00a0\u00a0\u00a0\u00a0-\u00a0\u00a0\u00a0NOV\u00a014\u00a0\u00a01994","titleX":332,"titleY":-9,"titleAlign":"right","titleBaseline":"alphabetic","titleAngle":0,"titleFontSize":12.6}},
"y":{"field":"value","type":"quantitative","scale":{"domain":[0,300],"nice":false,"zero":false},"axis":{"orient":"right","values":[0,25,50,75,100,125,150,175,200,225,250,275,300],"labels":false,"tickSize":-5,"title":null}}}}
]},
{"width":331,"height":258,"data":{"name":"cci"},
"resolve":{"axis":{"x":"independent","y":"independent"}},
"layer":[
{"mark":{"type":"line","strokeWidth":1,"color":"#2a2a2a"},"encoding":{
"x":{"field":"day","type":"quantitative","scale":{"domain":[0,21],"nice":false,"zero":false},"axis":{"orient":"bottom","values":[0,2,4,6,8,10,12,14,16,18,20],"ticks":false,"labelPadding":7,"title":"DAY","titleX":148,"titlePadding":7}},
"y":{"field":"value","type":"quantitative","scale":{"domain":[0,500],"nice":false,"zero":false},"axis":{"orient":"left","values":[0,100,200,300,400,500],"ticks":false,"labelPadding":7,"title":"COLUMN CLOUD ICE (G/M2)","titleAnchor":"start","titleX":-53}},
"strokeDash":{"field":"series","type":"nominal","scale":{"domain":["SCM","MM5","CCM2"],"range":[[10,3,2,3],[10,4],[3,2]]},"legend":{"title":null,"orient":"none","legendX":-2,"legendY":-45}}}},
{"mark":{"type":"point","opacity":0},"encoding":{
"x":{"field":"day","type":"quantitative","scale":{"domain":[0,21],"nice":false,"zero":false},"axis":{"orient":"bottom","values":[0,1,2,3,4,5,6,7,8,9,10,11,12,13,14,15,16,17,18,19,20,21],"labels":false,"tickSize":-5,"title":null}},
"y":{"field":"value","type":"quantitative","scale":{"domain":[0,500],"nice":false,"zero":false},"axis":{"orient":"left","values":[0,50,100,150,200,250,300,350,400,450,500],"labels":false,"tickSize":-5,"title":null}}}},
{"mark":{"type":"point","opacity":0},"encoding":{
"x":{"field":"day","type":"quantitative","scale":{"domain":[0,21],"nice":false,"zero":false},"axis":{"orient":"top","values":[0,1,2,3,4,5,6,7,8,9,10,11,12,13,14,15,16,17,18,19,20,21],"labels":false,"tickSize":-5,"title":"OCT\u00a025\u00a0\u00a0\u00a0\u00a0-\u00a0\u00a0\u00a0NOV\u00a014\u00a0\u00a01994","titleX":330,"titleY":-9,"titleAlign":"right","titleBaseline":"alphabetic","titleAngle":0,"titleFontSize":12.6}},
"y":{"field":"value","type":"quantitative","scale":{"domain":[0,500],"nice":false,"zero":false},"axis":{"orient":"right","values":[0,50,100,150,200,250,300,350,400,450,500],"labels":false,"tickSize":-5,"title":null}}}}
]},
{"width":331,"height":258,"data":{"name":"pcp"},
"resolve":{"axis":{"x":"independent","y":"independent"}},
"layer":[
{"mark":{"type":"line","strokeWidth":1,"color":"#2a2a2a"},"encoding":{
"x":{"field":"day","type":"quantitative","scale":{"domain":[0,21],"nice":false,"zero":false},"axis":{"orient":"bottom","values":[0,2,4,6,8,10,12,14,16,18,20],"ticks":false,"labelPadding":7,"title":"DAY","titleX":148,"titlePadding":7}},
"y":{"field":"value","type":"quantitative","scale":{"domain":[0,30],"nice":false,"zero":false},"axis":{"orient":"left","values":[0,5,10,15,20,25,30],"ticks":false,"labelPadding":7,"title":"PRECIPITATION (MM/DAY)","titleAnchor":"start","titleX":-53}},
"strokeDash":{"field":"series","type":"nominal","scale":{"domain":["SCM","MM5","OBSERVED","CCM2"],"range":[[10,3,2,3],[10,4],[1,0],[3,2]]},"legend":{"title":null,"orient":"none","legendX":-2,"legendY":-57}}}},
{"mark":{"type":"point","opacity":0},"encoding":{
"x":{"field":"day","type":"quantitative","scale":{"domain":[0,21],"nice":false,"zero":false},"axis":{"orient":"bottom","values":[0,1,2,3,4,5,6,7,8,9,10,11,12,13,14,15,16,17,18,19,20,21],"labels":false,"tickSize":-5,"title":null}},
"y":{"field":"value","type":"quantitative","scale":{"domain":[0,30],"nice":false,"zero":false},"axis":{"orient":"left","values":[0,2.5,5,7.5,10,12.5,15,17.5,20,22.5,25,27.5,30],"labels":false,"tickSize":-5,"title":null}}}},
{"mark":{"type":"point","opacity":0},"encoding":{
"x":{"field":"day","type":"quantitative","scale":{"domain":[0,21],"nice":false,"zero":false},"axis":{"orient":"top","values":[0,1,2,3,4,5,6,7,8,9,10,11,12,13,14,15,16,17,18,19,20,21],"labels":false,"tickSize":-5,"title":"OCT\u00a025\u00a0\u00a0\u00a0\u00a0-\u00a0\u00a0\u00a0NOV\u00a014\u00a0\u00a01994","titleX":332,"titleY":-9,"titleAlign":"right","titleBaseline":"alphabetic","titleAngle":0,"titleFontSize":12.6}},
"y":{"field":"value","type":"quantitative","scale":{"domain":[0,30],"nice":false,"zero":false},"axis":{"orient":"right","values":[0,2.5,5,7.5,10,12.5,15,17.5,20,22.5,25,27.5,30],"labels":false,"tickSize":-5,"title":null}}}}
]}
],
"config": {
"font": "Liberation Sans",
"view": {"stroke": "#111", "strokeWidth": 1},
"axis": {"grid": false, "domain": false, "labelFont": "Liberation Sans", "labelFontSize": 12, "labelColor": "#111", "titleFont": "Liberation Sans", "titleFontSize": 11, "titleFontWeight": "normal", "titleColor": "#111", "tickColor": "#111", "tickWidth": 1},
"legend": {"symbolType": "stroke", "symbolSize": 2809, "symbolStrokeWidth": 1, "symbolStrokeColor": "#2a2a2a", "labelFont": "Liberation Sans", "labelFontSize": 12, "labelColor": "#111", "labelOffset": 7, "rowPadding": 0, "padding": 0, "clipHeight": 13}
}
}
